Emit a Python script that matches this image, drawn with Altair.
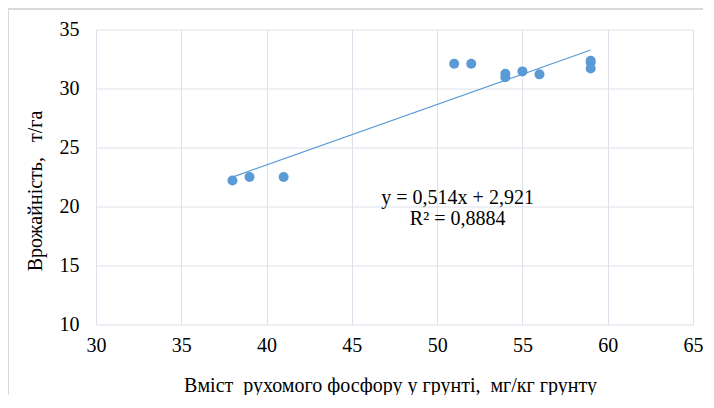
import altair as alt
import pandas as pd

# data
phosphorus = [38, 39, 41, 51, 52, 54, 54, 55, 56, 59, 59, 59]
yield_t_ha = [22.2, 22.5, 22.5, 32.1, 32.1, 31.25, 30.95, 31.45, 31.2, 32.35, 32.2, 31.7]
x_ticks = [30, 35, 40, 45, 50, 55, 60, 65]
y_ticks = [10, 15, 20, 25, 30, 35]
equation_lines = ["y = 0,514x + 2,921", "R² = 0,8884"]
equation_pos = [51.2, 20.7]
x_title = "Вміст\u00a0 рухомого фосфору у грунті,\u00a0 мг/кг грунту"
y_title = "Врожайність,\u00a0\u00a0 т/га"

df = pd.DataFrame({"x": phosphorus, "y": yield_t_ha})
eq_df = pd.DataFrame({"x": [equation_pos[0]], "y": [equation_pos[1]], "t": [equation_lines]})

FONT = "'Liberation Serif', 'Times New Roman', 'DejaVu Serif', serif"
BLUE = "#5b9bd5"
GRID = "#dde1ea"

x_enc = alt.X(
    "x:Q",
    scale=alt.Scale(domain=[30, 65], nice=False, zero=False),
    axis=alt.Axis(
        values=x_ticks, title=x_title,
        grid=True, gridColor=GRID, domain=False, ticks=False, labelFlush=False,
        labelFont=FONT, labelFontSize=20, labelColor="#000", labelPadding=11,
        titleFont=FONT, titleFontSize=20, titleFontWeight="normal", titleColor="#000",
        titleX=294, titleY=61, titleBaseline="middle", titleAlign="center",
    ),
)
y_enc = alt.Y(
    "y:Q",
    scale=alt.Scale(domain=[10, 35], nice=False, zero=False),
    axis=alt.Axis(
        values=y_ticks, title=y_title,
        grid=True, gridColor=GRID, domain=False, ticks=False, labelFlush=False,
        labelFont=FONT, labelFontSize=20, labelColor="#000", labelPadding=17,
        titleFont=FONT, titleFontSize=20, titleFontWeight="normal", titleColor="#000",
        titleX=-61, titleY=161, titleBaseline="middle", titleAlign="center", titleAngle=-90,
    ),
)

points = alt.Chart(df).mark_circle(size=100, color=BLUE, opacity=1).encode(x=x_enc, y=y_enc)

trend = (
    alt.Chart(df)
    .transform_regression("x", "y")
    .mark_line(color=BLUE, strokeWidth=1.2)
    .encode(x="x:Q", y="y:Q")
)

eq = alt.Chart(eq_df).mark_text(
    font=FONT, fontSize=20, color="#000", align="center", baseline="middle", lineHeight=21
).encode(x="x:Q", y="y:Q", text="t")

frame_left = alt.Chart(df).mark_rule(color="#d9d9d9", strokeWidth=1).encode(
    x=alt.value(-87.5), y=alt.value(-20.5), y2=alt.value(400)
)
frame_top = alt.Chart(df).mark_rule(color="#d9d9d9", strokeWidth=1).encode(
    x=alt.value(-87.5), x2=alt.value(700), y=alt.value(-20.5)
)

chart = (
    alt.layer(frame_left, frame_top, trend, points, eq)
    .properties(
        width=597, height=295,
        autosize=alt.AutoSizeParams(type="none"),
        padding={"left": 88, "top": 21.5, "right": 10, "bottom": 70},
        background="white",
    )
    .configure_view(stroke=None)
)

chart.save("out.html", embed_options={"renderer": "svg", "actions": False})
